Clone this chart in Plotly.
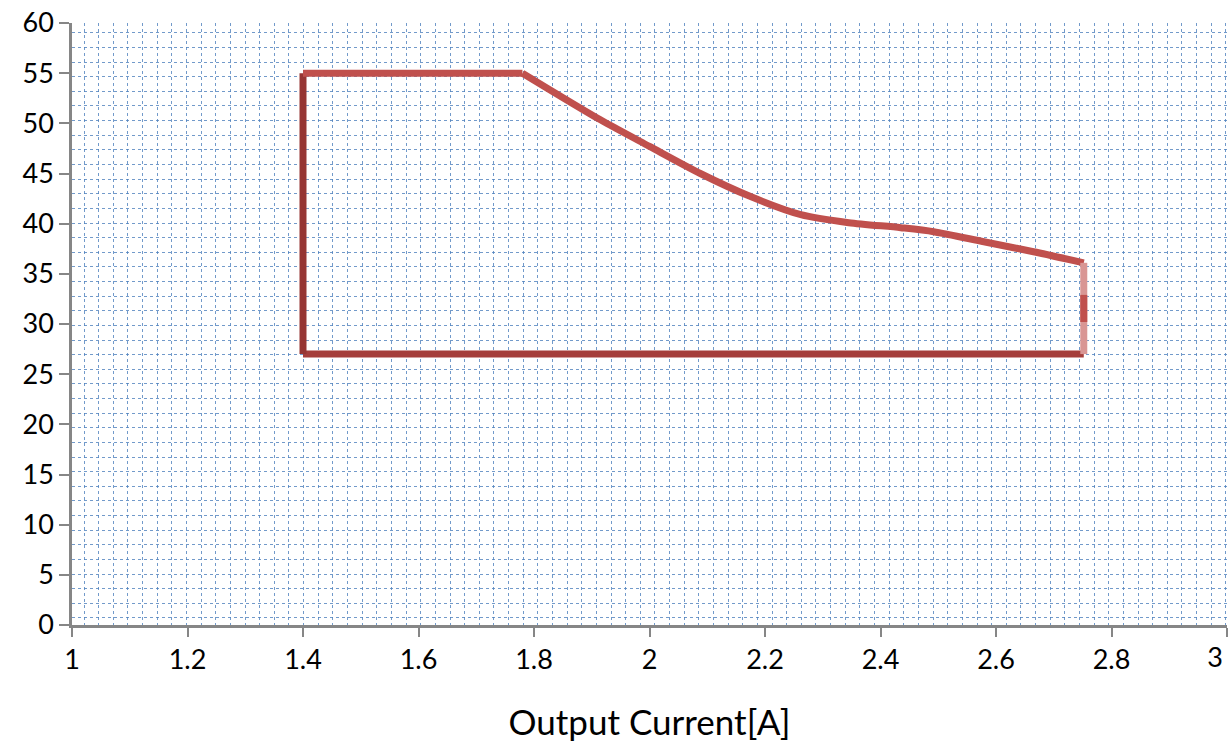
import plotly.graph_objects as go

# Data
top_x = [1.4, 1.78]
top_y = [55, 55]
curve_x = [1.78, 1.915, 2.0, 2.088, 2.175, 2.262, 2.345, 2.435, 2.492, 2.579, 2.665, 2.752]
curve_y = [55, 50.35, 47.7, 45.0, 42.7, 40.9, 40.1, 39.6, 39.2, 38.2, 37.2, 36.1]
left_x = [1.4, 1.4]
left_y = [27, 55]
bottom_x = [1.4, 2.752]
bottom_y = [27, 27]
right_x = [2.752, 2.752]
right_y = [27, 36.1]
right_mid_y = [30.2, 32.9]

x_ticks = [1, 1.2, 1.4, 1.6, 1.8, 2, 2.2, 2.4, 2.6, 2.8, 3]
x_tick_text = ["1", "1.2", "1.4", "1.6", "1.8", "2", "2.2", "2.4", "2.6", "2.8", ""]
x_end_tick = [3]
x_end_text = ["3"]
y_ticks = list(range(0, 61, 5))

LW = 7
fig = go.Figure()
# empty traces to create the overlay subplots (graph-paper grid, last x label)
fig.add_trace(go.Scatter(x=[], y=[], xaxis="x2", yaxis="y2", showlegend=False,
                         hoverinfo="skip"))
fig.add_trace(go.Scatter(x=[], y=[], xaxis="x3", yaxis="y", showlegend=False,
                         hoverinfo="skip"))
fig.add_trace(go.Scatter(x=bottom_x, y=bottom_y, mode="lines",
                         line=dict(color="#a53e3b", width=LW), showlegend=False))
fig.add_trace(go.Scatter(x=left_x, y=left_y, mode="lines",
                         line=dict(color="#963634", width=LW), showlegend=False))
fig.add_trace(go.Scatter(x=top_x, y=top_y, mode="lines",
                         line=dict(color="#c0504d", width=LW), showlegend=False))
fig.add_trace(go.Scatter(x=curve_x, y=curve_y, mode="lines",
                         line=dict(color="#c0504d", width=LW, shape="spline", smoothing=0.8),
                         showlegend=False))
fig.add_trace(go.Scatter(x=right_x, y=right_y, mode="lines",
                         line=dict(color="#d99694", width=LW), showlegend=False))
fig.add_trace(go.Scatter(x=right_x, y=right_mid_y, mode="lines",
                         line=dict(color="#c0504d", width=LW), showlegend=False))

grid_color = "rgba(79,129,189,0.8)"
fig.update_layout(
    width=1230, height=742,
    margin=dict(l=72, r=3, t=23, b=117),
    paper_bgcolor="white", plot_bgcolor="white",
    font=dict(family="Lato", color="black", size=27),
    xaxis=dict(
        range=[1, 3], tickmode="array", tickvals=x_ticks, ticktext=x_tick_text,
        showgrid=False, zeroline=False,
        showline=True, linecolor="#868686", linewidth=2.5,
        ticks="outside", ticklen=9, tickwidth=2, tickcolor="#868686",
        tickfont=dict(size=27),
        title=dict(text="Output Current[A]", font=dict(size=35), standoff=38),
        automargin=False,
    ),
    xaxis3=dict(
        overlaying="x", anchor="y", side="bottom", range=[1, 3],
        tickmode="array", tickvals=x_end_tick, ticktext=x_end_text,
        ticklabelshift=-12, tickfont=dict(size=27),
        showgrid=False, showline=False, zeroline=False,
        ticks="outside", ticklen=9, tickwidth=2, tickcolor="rgba(0,0,0,0)",
        automargin=False,
    ),
    yaxis=dict(
        range=[0, 60], tickmode="array", tickvals=y_ticks,
        showgrid=False, zeroline=False,
        showline=True, linecolor="#868686", linewidth=2.5,
        ticks="outside", ticklen=10, tickwidth=2, tickcolor="#868686",
        tickfont=dict(size=27),
        automargin=False,
    ),
    xaxis2=dict(
        overlaying="x", anchor="y2", range=[1, 3],
        tickmode="linear", tick0=1.0208, dtick=0.02535,
        showgrid=True, gridcolor=grid_color, griddash="dot", gridwidth=1.3,
        showticklabels=False, ticks="", showline=False, zeroline=False,
    ),
    yaxis2=dict(
        overlaying="y", anchor="x2", range=[0, 60],
        tickmode="linear", tick0=0.7, dtick=1.458,
        showgrid=True, gridcolor=grid_color, griddash="dot", gridwidth=1.3,
        showticklabels=False, ticks="", showline=False, zeroline=False,
    ),
)

fig.write_html("out.html", post_script="document.body.style.margin='0';",
               config={"displayModeBar": False})
